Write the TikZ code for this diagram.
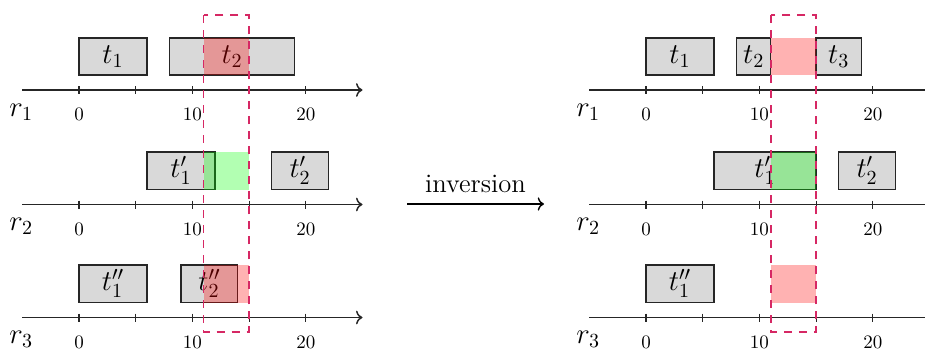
\documentclass[tikz,border=0pt]{standalone}
\usetikzlibrary{arrows.meta}
\definecolor{dashred}{RGB}{214,40,100}
\begin{document}
\begin{tikzpicture}[x=0.5pt,y=-0.5pt,
  axis/.style={line width=0.75pt, draw=black!85},
  tick/.style={line width=0.6pt, draw=black!85},
  taskbox/.style={draw=black!85, fill=gray!30, line width=0.65pt},
  tlabel/.style={font=\fontsize{14}{16}\selectfont, inner sep=0pt},
  ticklabel/.style={font=\fontsize{9.5}{11}\selectfont, anchor=base, inner sep=0pt},
  rlabel/.style={font=\fontsize{14}{16}\selectfont, anchor=base, inner sep=0pt},
  redov/.style={fill=red, opacity=0.3},
  greenov/.style={fill=green, opacity=0.3},
  window/.style={draw=dashred, line width=0.75pt, dash pattern=on 4pt off 3.5pt},
]
\useasboundingbox (0,0) rectangle (925,349);

% ---------------- left panel ----------------
\begin{scope}[shift={(79,0)}, x=5.67pt]
  \foreach \y/\r in {90/1,204.5/2,317.5/3}{
    \draw[axis,->] (-5,\y) -- (25,\y);
    \foreach \t in {0,5,...,20} \draw[tick] (\t,\y-4) -- (\t,\y+4);
    \foreach \t in {0,10,20} \node[ticklabel] (La\r-\t) at (\t,\y+30.5) {\t};
    \node[rlabel] (Lr\r) at (-5.1,\y+26) {$r_{\r}$};
  }
  % row 1
  \draw[taskbox] (0,38) rectangle (6,75);
  \node[tlabel] (Lt1) at (3,56.5) {$t_1$};
  \draw[taskbox] (8,38) rectangle (19,75);
  \node[tlabel] (Lt2) at (13.5,56.5) {$t_2$};
  \fill[redov] (11,38) rectangle (15,75);
  % row 2
  \draw[taskbox] (6,152) rectangle (12,189.5);
  \node[tlabel] (Lt1p) at (9,170.5) {$t'_1$};
  \draw[taskbox] (17,152) rectangle (22,189.5);
  \node[tlabel] (Lt2p) at (19.5,170.5) {$t'_2$};
  \fill[greenov] (11,152) rectangle (15,189.5);
  % row 3
  \draw[taskbox] (0,265) rectangle (6,302.5);
  \node[tlabel] (Lt1pp) at (3,283.5) {$t''_1$};
  \draw[taskbox] (9,265) rectangle (14,302.5);
  \node[tlabel] (Lt2pp) at (11.5,283.5) {$t''_2$};
  \fill[redov] (11,265) rectangle (15,302.5);
  % window
  \draw[window] (11,15) rectangle (15,332);
\end{scope}

% ---------------- arrow ----------------
\coordinate (invA) at (407,204);
\coordinate (invB) at (544,204);
\draw[line width=0.7pt,->] (invA) -- node[above, inner sep=0pt, yshift=5.5pt, font=\fontsize{13.3}{15}\selectfont] (invlabel) {inversion} (invB);

% ---------------- right panel ----------------
\begin{scope}[shift={(646,0)}, x=5.67pt]
  \foreach \y/\r in {90/1,204.5/2,317.5/3}{
    \draw[axis] (-5,\y) -- (24.7,\y);
    \foreach \t in {0,5,...,20} \draw[tick] (\t,\y-4) -- (\t,\y+4);
    \foreach \t in {0,10,20} \node[ticklabel] (Ra\r-\t) at (\t,\y+30.5) {\t};
    \node[rlabel] (Rr\r) at (-5.1,\y+26) {$r_{\r}$};
  }
  % row 1
  \draw[taskbox] (0,38) rectangle (6,75);
  \node[tlabel] (Rt1) at (3,56.5) {$t_1$};
  \draw[taskbox] (8,38) rectangle (11,75);
  \node[tlabel] (Rt2) at (9.5,56.5) {$t_2$};
  \draw[taskbox] (15,38) rectangle (19,75);
  \node[tlabel] (Rt3) at (17,56.5) {$t_3$};
  \fill[redov] (11,38) rectangle (15,75);
  % row 2
  \draw[taskbox] (6,152) rectangle (15,189.5);
  \node[tlabel] (Rt1p) at (10.5,170.5) {$t'_1$};
  \draw[taskbox] (17,152) rectangle (22,189.5);
  \node[tlabel] (Rt2p) at (19.5,170.5) {$t'_2$};
  \fill[greenov] (11,152) rectangle (15,189.5);
  % row 3
  \draw[taskbox] (0,265) rectangle (6,302.5);
  \node[tlabel] (Rt1pp) at (3,283.5) {$t''_1$};
  \fill[redov] (11,265) rectangle (15,302.5);
  % window
  \draw[window] (11,15) rectangle (15,332);
\end{scope}
\end{tikzpicture}
\end{document}
